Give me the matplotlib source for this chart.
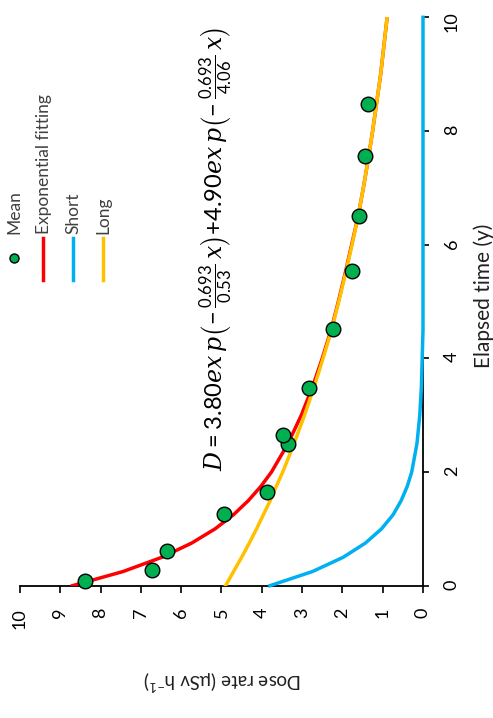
import matplotlib
matplotlib.use('Agg')
import matplotlib.pyplot as plt
from matplotlib.lines import Line2D

plt.rcParams['font.family'] = ['Lato', 'DejaVu Sans']
plt.rcParams['mathtext.fontset'] = 'custom'
plt.rcParams['mathtext.rm'] = 'Lato'
plt.rcParams['mathtext.sf'] = 'Lato'
plt.rcParams['mathtext.it'] = 'DejaVu Serif:italic'

# measured mean dose rate
mean_time = [0.08, 0.28, 0.61, 1.26, 1.64, 2.50, 2.65, 3.48, 4.52, 5.54, 6.50, 7.56, 8.47]
mean_dose = [8.39, 6.73, 6.35, 4.94, 3.87, 3.36, 3.48, 2.82, 2.23, 1.75, 1.60, 1.44, 1.37]

# fitted curve and its two components
curve_time = [0, 0.25, 0.5, 0.75, 1, 1.25, 1.5, 1.75, 2, 2.5, 3, 3.5, 4, 4.5,
              5, 5.5, 6, 6.5, 7, 7.5, 8, 8.5, 9, 9.5, 10]
fit_dose = [8.70, 7.44, 6.48, 5.74, 5.16, 4.70, 4.33, 4.02, 3.76, 3.35, 3.02, 2.74, 2.50, 2.28,
            2.10, 1.93, 1.77, 1.61, 1.48, 1.36, 1.25, 1.15, 1.05, 0.97, 0.89]
short_dose = [3.80, 2.74, 1.98, 1.43, 1.03, 0.74, 0.54, 0.39, 0.28, 0.15, 0.08, 0.04, 0.02, 0.0,
              0.0, 0.0, 0.0, 0.0, 0.0, 0.0, 0.0, 0.0, 0.0, 0.0, 0.0]
long_dose = [4.90, 4.70, 4.50, 4.31, 4.13, 3.96, 3.79, 3.64, 3.48, 3.20, 2.94, 2.70, 2.48, 2.27,
             2.09, 1.92, 1.76, 1.61, 1.48, 1.36, 1.25, 1.15, 1.05, 0.97, 0.89]

dose_ticks = list(range(0, 11))
time_ticks = [0, 2, 4, 6, 8, 10]

GREEN = '#00B050'
RED = '#FF0000'
BLUE = '#00B0F0'
YELLOW = '#FFC000'

W, H = 493, 718
fig = plt.figure(figsize=(W / 100, H / 100), dpi=100)


def fx(px):
    return px / W


def fy(py):
    return 1 - py / H


# chart is drawn turned on its side: dose runs right-to-left, time bottom-to-top
ax = fig.add_axes([fx(20), fy(585.7), fx(423) - fx(20), fy(17.3) - fy(585.7)])
ax.plot(fit_dose, curve_time, color=RED, lw=2.5, zorder=2)
ax.plot(short_dose, curve_time, color=BLUE, lw=2.5, zorder=3, clip_on=False)
ax.plot(long_dose, curve_time, color=YELLOW, lw=2.5, zorder=3)
ax.plot(mean_dose, mean_time, 'o', color=GREEN, mec='black', mew=1.0, ms=10.5, zorder=5,
        clip_on=False)

ax.set_xlim(10, 0)
ax.set_ylim(0, 10)
ax.set_xticks(dose_ticks)
ax.set_yticks(time_ticks)
ax.spines['left'].set_visible(False)
ax.spines['top'].set_visible(False)
for s in ('bottom', 'right'):
    ax.spines[s].set_linewidth(1.3)
    ax.spines[s].set_zorder(1)
ax.yaxis.tick_right()
ax.tick_params(axis='x', direction='out', length=5, width=1.2, pad=11, labelsize=13,
               labelrotation=90)
ax.tick_params(axis='y', direction='out', length=4, width=1.2, pad=11, labelsize=13,
               labelrotation=90)
ax.patch.set_alpha(0)

fig.text(fx(484), fy(296), 'Elapsed time (y)', rotation=90, ha='center', va='center',
         fontsize=15, color='#202020')
fig.text(fx(223), fy(680), 'Dose rate (μSv h$^{-1}$)', rotation=180, ha='center', va='center',
         fontsize=13.5, color='#202020')

eq = (r'$D=3.80ex\,p\left(-\,\frac{0.693}{0.53}\,x\right)$'
      r'+$4.90ex\,p\left(-\,\frac{0.693}{4.06}\,x\right)$')
fig.text(fx(216), fy(471), eq, rotation=90, ha='center', va='bottom', fontsize=17)

# legend, stacked left to right
fig.add_artist(Line2D([fx(14)], [fy(258)], marker='o', color=GREEN, mec='black', mew=1.0,
                      ms=6.5, transform=fig.transFigure))
for x, c in [(42.7, RED), (72.7, BLUE), (102.7, YELLOW)]:
    fig.add_artist(Line2D([fx(x), fx(x)], [fy(280), fy(238)], color=c, lw=2.5,
                          transform=fig.transFigure))
for x, lab in [(14, 'Mean'), (44, 'Exponential fitting'), (73, 'Short'), (103, 'Long')]:
    fig.text(fx(x), fy(234), lab, rotation=90, ha='center', va='bottom', fontsize=12.5,
             color='#404040')

fig.savefig('out.png', dpi=100)
